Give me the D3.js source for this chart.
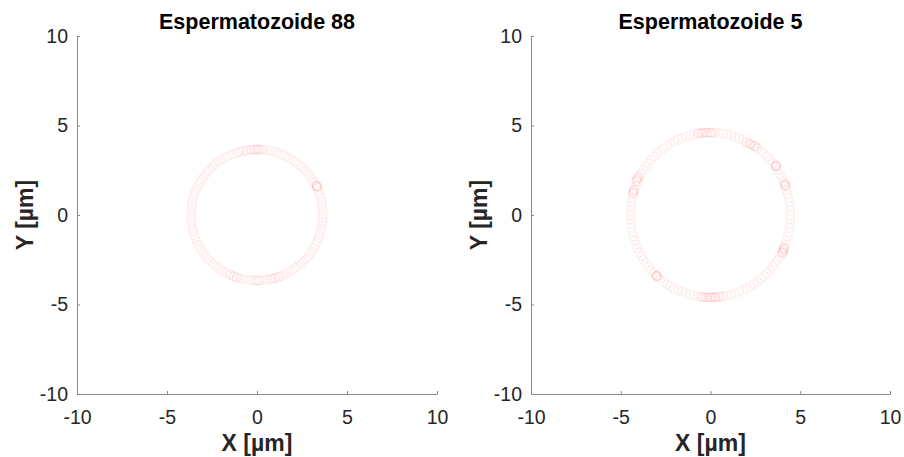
<!DOCTYPE html>
<html>
<head>
<meta charset="utf-8">
<script src="https://cdn.jsdelivr.net/npm/d3@7"></script>
<style>
  html, body { margin: 0; padding: 0; background: #fff; }
  svg text { font-family: "Liberation Sans", Arial, Helvetica, sans-serif; }
</style>
</head>
<body>
<svg id="chart" width="904" height="457"></svg>
<script>
// Axis setup shared by both panels
const tickValues = [-10, -5, 0, 5, 10];
const tickLabels = ["-10", "-5", "0", "5", "10"];
const axisDomain = [-10, 10];
const titles = ["Espermatozoide 88", "Espermatozoide 5"];
const xLabel = "X [µm]";
const yLabel = "Y [µm]";

// Trajectory of sperm 88 (µm)
const sperm88X = [
  3.66, 3.64, 3.58, 3.48, 3.34, 3.17, 2.96, 2.72, 2.45, 2.15, 1.83, 1.49, 1.13, 0.76, 0.38,
  0.00, -0.38, -0.76, -1.13, -1.49, -1.83, -2.15, -2.45, -2.72, -2.96, -3.17, -3.34, -3.48, -3.58, -3.64,
  -3.66, -3.64, -3.58, -3.48, -3.34, -3.17, -2.96, -2.72, -2.45, -2.15, -1.83, -1.49, -1.13, -0.76, -0.38,
  0.00, 0.38, 0.76, 1.13, 1.49, 1.83, 2.15, 2.45, 2.72, 2.96, 3.17, 3.34, 3.48, 3.58, 3.64,
  -0.19, -0.57, -0.95, -1.31, -1.66, -1.99, -2.30, -2.59, -2.84, -3.07, -3.26, -3.42, -3.54, -3.61, -3.65,
  3.65, 3.61, 3.54, 3.42, 3.26, 3.07, 2.84, 2.59, 2.30, 1.99, 1.66, 1.31, 0.95, 0.57, 0.19,
  -3.65, -3.61, -3.54, -3.42, -3.26, -3.07, -2.84, -2.59, -2.30, -1.99,
  -1.66, -1.31, -0.95, -0.57, -0.19, 0.19, 0.57, 0.95, 1.31, 1.66,
  1.99, 2.30, 2.59, 2.84, 3.07,
  3.26, 3.42, 3.54, 3.61, 3.65,
  -0.10, 0.10, -1.00, -0.60, 3.33, 3.36, 3.31, -1.50, -1.10, 0.10, 0.80, 1.20,
  0.00, -0.30, 0.30, 3.34, 3.32, -1.30, 0.00, 1.00
];
const sperm88Y = [
  0.00, 0.38, 0.76, 1.13, 1.49, 1.83, 2.15, 2.45, 2.72, 2.96, 3.17, 3.34, 3.48, 3.58, 3.64,
  3.66, 3.64, 3.58, 3.48, 3.34, 3.17, 2.96, 2.72, 2.45, 2.15, 1.83, 1.49, 1.13, 0.76, 0.38,
  0.00, -0.38, -0.76, -1.13, -1.49, -1.83, -2.15, -2.45, -2.72, -2.96, -3.17, -3.34, -3.48, -3.58, -3.64,
  -3.66, -3.64, -3.58, -3.48, -3.34, -3.17, -2.96, -2.72, -2.45, -2.15, -1.83, -1.49, -1.13, -0.76, -0.38,
  3.65, 3.61, 3.54, 3.42, 3.26, 3.07, 2.84, 2.59, 2.30, 1.99, 1.66, 1.31, 0.95, 0.57, 0.19,
  0.19, 0.57, 0.95, 1.31, 1.66, 1.99, 2.30, 2.59, 2.84, 3.07, 3.26, 3.42, 3.54, 3.61, 3.65,
  -0.19, -0.57, -0.95, -1.31, -1.66, -1.99, -2.30, -2.59, -2.84, -3.07,
  -3.26, -3.42, -3.54, -3.61, -3.65, -3.65, -3.61, -3.54, -3.42, -3.26,
  -3.07, -2.84, -2.59, -2.30, -1.99,
  -1.66, -1.31, -0.95, -0.57, -0.19,
  3.66, 3.66, 3.53, 3.60, 1.60, 1.55, 1.65, -3.33, -3.48, -3.66, -3.57, -3.45,
  3.66, 3.65, 3.65, 1.58, 1.62, -3.42, -3.66, -3.52
];

// Trajectory of sperm 5 (µm)
const sperm5X = [
  4.45, 4.43, 4.35, 4.23, 4.07, 3.85, 3.60, 3.31, 2.98, 2.62, 2.23, 1.81, 1.38, 0.93, 0.47,
  0.00, -0.47, -0.93, -1.38, -1.81, -2.23, -2.62, -2.98, -3.31, -3.60, -3.85, -4.07, -4.23, -4.35, -4.43,
  -4.45, -4.43, -4.35, -4.23, -4.07, -3.85, -3.60, -3.31, -2.98, -2.62, -2.23, -1.81, -1.38, -0.93, -0.47,
  0.00, 0.47, 0.93, 1.38, 1.81, 2.23, 2.62, 2.98, 3.31, 3.60, 3.85, 4.07, 4.23, 4.35, 4.43,
  4.44, 4.40, 4.30, 4.15, 3.96, 3.73, 3.46, 3.15, 2.80, 2.42, 2.02, 1.59, 1.15, 0.70, 0.23,
  -0.23, -0.70, -1.15, -1.59, -2.02, -2.42, -2.80, -3.15, -3.46, -3.73, -3.96, -4.15, -4.30, -4.40, -4.44,
  -4.44, -4.40, -4.30, -4.15, -3.96, -3.73, -3.46, -3.15, -2.80, -2.42, -2.02, -1.59, -1.15, -0.70, -0.23,
  0.23, 0.70, 1.15, 1.59, 2.02, 2.42, 2.80, 3.15, 3.46, 3.73, 3.96, 4.15, 4.30, 4.40, 4.44,
  -0.70, -0.50, -0.30, -0.10, 0.05, -0.40,
  2.00, 2.15, 2.30, 2.45, 2.60,
  3.62, 3.66, 3.70,
  4.12, 4.16, 4.20,
  4.10, 4.08, 4.05, 4.02, 4.00,
  -2.95, -3.00, -3.05,
  -0.55, -0.35, -0.20, 0.00, 0.15, 0.30, 0.45, 0.60,
  -4.05, -4.10, -4.15, -4.00, -4.30, -4.33, -4.28,
  -0.20, 0.10, -0.60, 2.20, 2.50, 3.64, 3.68, 4.14, 4.18,
  4.06, 4.04, 4.09, -2.98, -3.02, -0.10, 0.05, 0.25, -0.45,
  -4.08, -4.12, -4.31, -4.29
];
const sperm5Y = [
  0.00, 0.48, 0.96, 1.42, 1.87, 2.30, 2.70, 3.08, 3.42, 3.72, 3.98, 4.20, 4.38, 4.50, 4.57,
  4.60, 4.57, 4.50, 4.38, 4.20, 3.98, 3.72, 3.42, 3.08, 2.70, 2.30, 1.87, 1.42, 0.96, 0.48,
  0.00, -0.48, -0.96, -1.42, -1.87, -2.30, -2.70, -3.08, -3.42, -3.72, -3.98, -4.20, -4.38, -4.50, -4.57,
  -4.60, -4.57, -4.50, -4.38, -4.20, -3.98, -3.72, -3.42, -3.08, -2.70, -2.30, -1.87, -1.42, -0.96, -0.48,
  0.24, 0.72, 1.19, 1.65, 2.09, 2.51, 2.89, 3.25, 3.57, 3.86, 4.10, 4.29, 4.44, 4.54, 4.59,
  4.59, 4.54, 4.44, 4.29, 4.10, 3.86, 3.57, 3.25, 2.89, 2.51, 2.09, 1.65, 1.19, 0.72, 0.24,
  -0.24, -0.72, -1.19, -1.65, -2.09, -2.51, -2.89, -3.25, -3.57, -3.86, -4.10, -4.29, -4.44, -4.54, -4.59,
  -4.59, -4.54, -4.44, -4.29, -4.10, -3.86, -3.57, -3.25, -2.89, -2.51, -2.09, -1.65, -1.19, -0.72, -0.24,
  4.57, 4.58, 4.60, 4.60, 4.60, 4.59,
  4.05, 3.98, 3.93, 3.85, 3.78,
  2.78, 2.74, 2.70,
  1.78, 1.70, 1.62,
  -1.80, -1.90, -2.00, -2.10, -2.18,
  -3.45, -3.40, -3.36,
  -4.58, -4.60, -4.60, -4.60, -4.60, -4.59, -4.58, -4.56,
  2.10, 2.00, 1.90, 2.20, 1.30, 1.20, 1.40,
  4.60, 4.60, 4.58, 3.96, 3.83, 2.76, 2.72, 1.74, 1.66,
  -1.95, -2.05, -1.85, -3.42, -3.38, -4.60, -4.60, -4.60, -4.59,
  2.05, 1.95, 1.25, 1.35
];

const panels = [
  { title: titles[0], xs: sperm88X, ys: sperm88Y, left: 77, right: 437 },
  { title: titles[1], xs: sperm5X, ys: sperm5Y, left: 531, right: 890 }
];
const plotTop = 36, plotBottom = 394;
const axisColor = "#8a8a8a";
const textColor = "#262626";

const svg = d3.select("#chart");

// slight softening so overlapping markers merge into a trail
svg.append("defs").append("filter").attr("id", "soft")
  .attr("x", "-20%").attr("y", "-20%").attr("width", "140%").attr("height", "140%")
  .append("feGaussianBlur").attr("stdDeviation", 0.6);

panels.forEach(p => {
  const x = d3.scaleLinear().domain(axisDomain).range([p.left, p.right]);
  const y = d3.scaleLinear().domain(axisDomain).range([plotBottom, plotTop]);
  const g = svg.append("g");

  // markers
  const pts = d3.zip(p.xs, p.ys);
  g.append("g").attr("filter", "url(#soft)")
    .selectAll("circle").data(pts).join("circle")
    .attr("cx", d => x(d[0]))
    .attr("cy", d => y(d[1]))
    .attr("r", 4.3)
    .attr("fill", "none")
    .attr("stroke", "#ff0000")
    .attr("stroke-opacity", 0.06)
    .attr("stroke-width", 1.2);

  // x axis with inward ticks
  const xAxis = d3.axisBottom(x).tickValues(tickValues)
    .tickFormat((d, i) => tickLabels[i]).tickSizeInner(-3).tickSizeOuter(0).tickPadding(16);
  const gx = g.append("g").attr("transform", `translate(0,${plotBottom})`).call(xAxis);
  gx.select(".domain").attr("stroke", axisColor);
  gx.selectAll(".tick line").attr("stroke", axisColor);
  gx.selectAll(".tick text").attr("fill", textColor).attr("font-size", 19.5)
    .attr("font-family", "'Liberation Sans', Arial, sans-serif");

  // y axis with inward ticks
  const yAxis = d3.axisLeft(y).tickValues(tickValues)
    .tickFormat((d, i) => tickLabels[i]).tickSizeInner(-3).tickSizeOuter(0).tickPadding(9);
  const gy = g.append("g").attr("transform", `translate(${p.left},0)`).call(yAxis);
  gy.select(".domain").attr("stroke", axisColor);
  gy.selectAll(".tick line").attr("stroke", axisColor);
  gy.selectAll(".tick text").attr("fill", textColor).attr("font-size", 19.5)
    .attr("font-family", "'Liberation Sans', Arial, sans-serif");

  // title
  g.append("text")
    .attr("x", (p.left + p.right) / 2).attr("y", 29)
    .attr("text-anchor", "middle").attr("font-weight", "bold")
    .attr("font-size", 21.5).attr("fill", "#000")
    .text(p.title);

  // axis labels
  g.append("text")
    .attr("x", (p.left + p.right) / 2).attr("y", 451)
    .attr("text-anchor", "middle").attr("font-weight", "bold")
    .attr("font-size", 23).attr("fill", textColor)
    .text(xLabel);
  g.append("text")
    .attr("transform", `translate(${p.left - 44},${(plotTop + plotBottom) / 2}) rotate(-90)`)
    .attr("text-anchor", "middle").attr("font-weight", "bold")
    .attr("font-size", 23).attr("fill", textColor)
    .text(yLabel);
});
</script>
</body>
</html>
